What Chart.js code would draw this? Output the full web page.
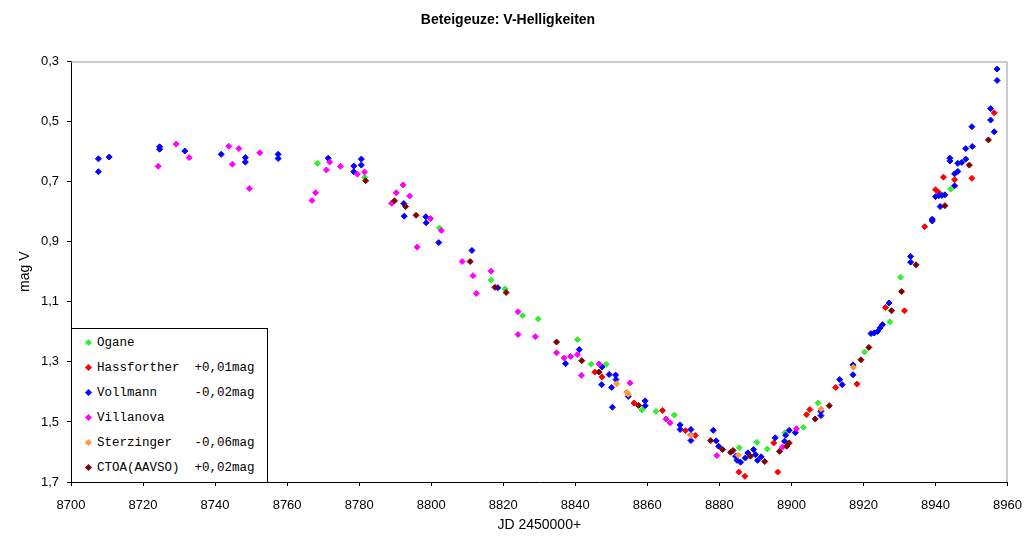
<!DOCTYPE html>
<html>
<head>
<meta charset="utf-8">
<script src="https://cdn.jsdelivr.net/npm/chart.js@4"></script>
<style>
  body { margin: 0; background: #fff; }
  #wrap { position: relative; width: 1034px; height: 537px; }
  #legend {
    position: absolute; left: 71px; top: 328px; width: 197px; height: 154px;
    border: 1px solid #000; border-bottom: none; background: #fff; box-sizing: border-box;
    font-family: "Liberation Mono", monospace; font-size: 12.5px; color: #000;
  }
  #legend .row { position: absolute; left: 0; height: 16px; line-height: 16px; white-space: pre; }
  #legend .mk { position: absolute; left: 14px; top: 5px; width: 5px; height: 5px; transform: rotate(45deg); }
  #legend .tx { position: absolute; left: 25px; top: 0; }
</style>
</head>
<body>
<div id="wrap">
  <canvas id="chart" width="1034" height="537"></canvas>
  <div id="legend"></div>
</div>
<script>
// Beteigeuze V magnitudes, JD - 2450000
const oganeJD  = [8768.4, 8781.5, 8802.3, 8816.6, 8820.5, 8825.4, 8829.7, 8840.6, 8844.4, 8848.6, 8858.5, 8862.4, 8867.5, 8885.5, 8890.4, 8893.3, 8898.2, 8903.3, 8907.4, 8920.3, 8927.3, 8930.3, 8944.2];
const oganeMag = [0.639, 0.685, 0.854, 1.028, 1.057, 1.146, 1.157, 1.226, 1.308, 1.308, 1.460, 1.465, 1.477, 1.586, 1.568, 1.590, 1.536, 1.518, 1.437, 1.267, 1.167, 1.018, 0.725];

const hassJD  = [8845.4, 8847.4, 8856.3, 8864.2, 8870.6, 8873.3, 8885.4, 8887.1, 8896.2, 8895.1, 8904.2, 8905.1, 8912.3, 8918.2, 8926.1, 8931.4, 8937.0, 8940.0, 8940.9, 8942.2, 8945.3, 8950.1, 8956.3];
const hassMag = [1.334, 1.350, 1.437, 1.462, 1.529, 1.545, 1.667, 1.681, 1.667, 1.570, 1.476, 1.459, 1.385, 1.374, 1.119, 1.130, 0.850, 0.727, 0.736, 0.685, 0.694, 0.689, 0.471];

const vollJD  = [8707.6, 8707.6, 8710.6, 8724.6, 8724.6, 8731.6, 8741.7, 8748.4, 8748.4, 8757.5, 8757.5, 8771.4, 8778.5, 8780.6, 8780.6, 8778.5,
                 8792.4, 8792.5, 8798.5, 8798.6, 8802.1, 8811.3, 8818.5, 8837.3, 8841.1, 8847.4, 8849.4, 8851.2, 8851.3, 8847.3, 8850.1, 8850.3,
                 8854.7, 8859.4, 8859.4, 8869.1, 8869.1, 8872.1, 8872.1, 8872.1, 8878.3, 8879.1, 8879.8, 8884.5, 8884.9, 8885.9, 8887.2, 8887.9,
                 8889.5, 8890.0, 8890.6, 8891.6, 8895.5, 8898.1, 8898.4, 8899.4, 8901.1, 8908.2, 8908.2, 8913.4, 8914.1, 8917.1, 8917.1, 8922.1,
                 8923.0, 8923.9, 8924.6, 8925.3, 8927.1, 8933.1, 8933.1, 8939.1, 8939.1, 8940.0, 8940.9, 8941.8, 8942.6, 8941.3, 8944.0, 8944.0,
                 8945.3, 8945.3, 8946.2, 8946.2, 8947.3, 8948.4, 8948.4, 8950.2, 8950.1, 8955.3, 8955.3, 8956.3, 8957.1, 8957.1];
const vollMag = [0.624, 0.667, 0.618, 0.584, 0.592, 0.598, 0.609, 0.620, 0.635, 0.609, 0.623, 0.622, 0.648, 0.625, 0.645, 0.667,
                 0.773, 0.815, 0.817, 0.837, 0.903, 0.929, 1.053, 1.306, 1.259, 1.317, 1.342, 1.344, 1.359, 1.376, 1.385, 1.451,
                 1.415, 1.430, 1.446, 1.510, 1.525, 1.525, 1.543, 1.562, 1.528, 1.563, 1.581, 1.614, 1.628, 1.634, 1.620, 1.603,
                 1.592, 1.609, 1.628, 1.616, 1.553, 1.564, 1.544, 1.528, 1.536, 1.465, 1.479, 1.359, 1.376, 1.310, 1.343, 1.206,
                 1.204, 1.199, 1.187, 1.176, 1.104, 0.949, 0.968, 0.825, 0.831, 0.750, 0.747, 0.746, 0.744, 0.783, 0.622, 0.631,
                 0.674, 0.714, 0.639, 0.666, 0.636, 0.625, 0.590, 0.583, 0.517, 0.457, 0.495, 0.534, 0.325, 0.363];

const villJD  = [8724.2, 8729.2, 8732.8, 8743.8, 8744.8, 8746.6, 8749.5, 8752.4, 8771.8, 8770.9, 8774.8, 8767.9, 8766.9, 8779.5, 8781.5, 8792.2,
                 8790.3, 8789.0, 8794.0, 8799.8, 8802.8, 8796.1, 8808.6, 8811.6, 8812.5, 8816.6, 8824.1, 8824.1, 8828.9, 8834.8, 8836.9, 8838.7,
                 8840.6, 8841.7, 8846.6, 8855.2, 8865.2, 8866.3, 8879.3, 8897.5, 8901.4];
const villMag = [0.649, 0.575, 0.620, 0.582, 0.642, 0.590, 0.723, 0.604, 0.635, 0.661, 0.649, 0.737, 0.763, 0.675, 0.668, 0.711,
                 0.737, 0.772, 0.748, 0.823, 0.863, 0.918, 0.966, 1.013, 1.072, 0.998, 1.133, 1.209, 1.216, 1.270, 1.287, 1.282,
                 1.276, 1.345, 1.307, 1.370, 1.490, 1.503, 1.612, 1.584, 1.523];

const sterJD  = [8851.5, 8854.3, 8854.7, 8872.1, 8885.2, 8908.2, 8917.2];
const sterMag = [1.373, 1.401, 1.408, 1.545, 1.611, 1.457, 1.318];

const ctoaJD  = [8781.8, 8789.8, 8792.9, 8795.8, 8810.8, 8817.7, 8820.8, 8834.8, 8841.8, 8846.6, 8857.6, 8877.6, 8880.9, 8883.1, 8883.8,
                 8888.6, 8892.6, 8896.7, 8898.7, 8899.4, 8906.6, 8910.5, 8919.3, 8921.5, 8927.8, 8930.6, 8934.6, 8942.6, 8949.4, 8954.7];
const ctoaMag = [0.697, 0.764, 0.783, 0.812, 0.966, 1.052, 1.069, 1.234, 1.296, 1.334, 1.445, 1.562, 1.592, 1.601, 1.595,
                 1.614, 1.632, 1.598, 1.581, 1.570, 1.490, 1.446, 1.293, 1.252, 1.130, 1.066, 0.977, 0.780, 0.645, 0.561];

const seriesNames  = ['Ogane', 'Hassforther  +0,01mag', 'Vollmann     -0,02mag', 'Villanova', 'Sterzinger   -0,06mag', 'CTOA(AAVSO)  +0,02mag'];
const seriesColors = ['#33ee33', '#ff0000', '#0000ff', '#ff00ff', '#ff9933', '#800000'];
const seriesX = [oganeJD, hassJD, vollJD, villJD, sterJD, ctoaJD];
const seriesY = [oganeMag, hassMag, vollMag, villMag, sterMag, ctoaMag];

Chart.defaults.font.family = '"Liberation Sans", Arial, sans-serif';
Chart.defaults.color = '#000';

const datasets = seriesNames.map((name, i) => ({
    label: name,
    data: seriesX[i].map((x, k) => ({ x: x, y: seriesY[i][k] })),
    pointStyle: 'rectRot',
    pointRadius: 3,
    pointBorderWidth: 1,
    backgroundColor: seriesColors[i],
    borderColor: seriesColors[i],
    showLine: false,
    order: seriesNames.length - i
}));

// grey top/right frame like the original plot area
const framePlugin = {
    id: 'frame',
    beforeDatasetsDraw(chart) {
        const a = chart.chartArea;
        const ctx = chart.ctx;
        ctx.save();
        ctx.strokeStyle = '#999';
        ctx.lineWidth = 1;
        ctx.beginPath();
        ctx.moveTo(a.left, a.top + 0.5);
        ctx.lineTo(a.right - 0.5, a.top + 0.5);
        ctx.lineTo(a.right - 0.5, a.bottom);
        ctx.stroke();
        ctx.restore();
    }
};

new Chart(document.getElementById('chart'), {
    type: 'scatter',
    data: { datasets: datasets },
    plugins: [framePlugin],
    options: {
        responsive: false,
        animation: false,
        layout: { padding: { left: 0, right: 18, top: 0, bottom: 0 } },
        plugins: {
            legend: { display: false },
            tooltip: { enabled: false },
            title: {
                display: true,
                text: 'Beteigeuze: V-Helligkeiten',
                font: { size: 14, weight: 'bold' },
                color: '#000',
                padding: { top: 12, bottom: 32.7 }
            }
        },
        scales: {
            x: {
                type: 'linear',
                min: 8700,
                max: 8960,
                afterFit: s => { s.height = 55; },
                ticks: { stepSize: 20, font: { size: 13 }, padding: 12, color: '#000', callback: v => String(v) },
                grid: { drawOnChartArea: false, tickLength: 4, color: '#000' },
                border: { display: true, color: '#000' },
                title: { display: true, text: 'JD 2450000+', font: { size: 14 }, color: '#000', padding: { top: 4, bottom: 3 } }
            },
            y: {
                type: 'linear',
                reverse: true,
                min: 0.3,
                max: 1.7,
                afterFit: s => { s.width = 71; },
                ticks: {
                    stepSize: 0.2,
                    font: { size: 13 },
                    padding: 8,
                    color: '#000',
                    callback: v => v.toFixed(1).replace('.', ',')
                },
                grid: { drawOnChartArea: false, tickLength: 4, color: '#000' },
                border: { display: true, color: '#000' },
                title: { display: true, text: 'mag V', font: { size: 14 }, color: '#000', padding: { top: 16.6, bottom: 0 } }
            }
        }
    }
});

// legend box in the lower left of the plot
const legend = document.getElementById('legend');
const rowTops = [6, 31, 56, 81, 106, 131];
seriesNames.forEach((name, i) => {
    const row = document.createElement('div');
    row.className = 'row';
    row.style.top = rowTops[i] + 'px';
    const mk = document.createElement('span');
    mk.className = 'mk';
    mk.style.background = seriesColors[i];
    const tx = document.createElement('span');
    tx.className = 'tx';
    tx.textContent = name;
    row.appendChild(mk);
    row.appendChild(tx);
    legend.appendChild(row);
});
</script>
</body>
</html>
